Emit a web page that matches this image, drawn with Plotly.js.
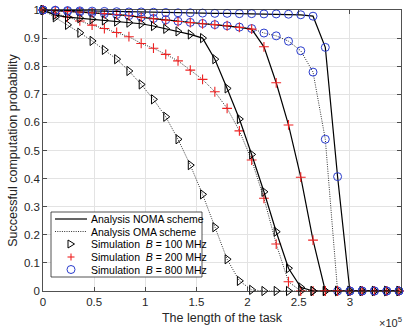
<!DOCTYPE html>
<html>
<head>
<meta charset="utf-8">
<script src="https://cdn.plot.ly/plotly-3.0.1.min.js"></script>
<style>html,body{margin:0;padding:0;background:#fff}#chart{width:405px;height:329px}</style>
</head>
<body>
<div id="chart"></div>
<script>
// Task length (units of 1e5)
const taskLength = [0, 0.12, 0.24, 0.36, 0.48, 0.60, 0.72, 0.84, 0.96, 1.08, 1.20, 1.32, 1.44, 1.56, 1.68,
  1.80, 1.92, 2.04, 2.16, 2.28, 2.40, 2.52, 2.64, 2.76, 2.88, 3.00, 3.12, 3.24, 3.36, 3.48];

const noma100 = [1.0, 0.982, 0.975, 0.971, 0.967, 0.963, 0.959, 0.955, 0.951, 0.943, 0.933, 0.924, 0.913, 0.900, 0.825,
  0.721, 0.612, 0.486, 0.353, 0.211, 0.081, 0.013, 0, 0, 0, 0, 0, 0, 0, 0];
const oma100 = [1.0, 0.974, 0.947, 0.919, 0.890, 0.858, 0.825, 0.783, 0.735, 0.682, 0.620, 0.540, 0.448, 0.344, 0.227,
  0.113, 0.036, 0.004, 0, 0, 0, 0, 0, 0, 0, 0, 0, 0, 0, 0];
const noma200 = [1.0, 0.998, 0.995, 0.993, 0.990, 0.987, 0.984, 0.980, 0.974, 0.969, 0.964, 0.959, 0.955, 0.951, 0.948,
  0.944, 0.938, 0.932, 0.869, 0.741, 0.591, 0.405, 0.181, 0, 0, 0, 0, 0, 0, 0];
const oma200 = [1.0, 0.988, 0.975, 0.961, 0.946, 0.934, 0.920, 0.905, 0.881, 0.864, 0.842, 0.819, 0.786, 0.753, 0.709,
  0.650, 0.570, 0.466, 0.330, 0.167, 0.033, 0, 0, 0, 0, 0, 0, 0, 0, 0];
const noma800 = [1.0, 0.999, 0.998, 0.997, 0.996, 0.995, 0.994, 0.993, 0.993, 0.992, 0.991, 0.990, 0.990, 0.989, 0.988,
  0.988, 0.987, 0.987, 0.986, 0.986, 0.985, 0.983, 0.978, 0.867, 0.407, 0, 0, 0, 0, 0];
const oma800 = [1.0, 0.998, 0.995, 0.993, 0.990, 0.987, 0.984, 0.980, 0.975, 0.970, 0.965, 0.960, 0.956, 0.952, 0.948,
  0.944, 0.939, 0.934, 0.918, 0.908, 0.889, 0.855, 0.779, 0.540, 0, 0, 0, 0, 0, 0];

const xTicks = [0, 0.5, 1, 1.5, 2, 2.5, 3, 3.5];
const xTickText = ['0', '0.5', '1', '1.5', '2', '2.5', '3', '3.5'];
const yTicks = [0, 0.1, 0.2, 0.3, 0.4, 0.5, 0.6, 0.7, 0.8, 0.9, 1];
const yTickText = ['0', '0.1', '0.2', '0.3', '0.4', '0.5', '0.6', '0.7', '0.8', '0.9', '1'];

const legendLabels = ['Analysis NOMA scheme', 'Analysis OMA scheme',
  'Simulation  <i>B</i> = 100 MHz', 'Simulation  <i>B</i> = 200 MHz', 'Simulation  <i>B</i> = 800 MHz'];

const BLACK = '#000000', RED = '#ee2222', BLUE = '#2a3ccc';
const tri = {symbol: 'triangle-right-open', size: 8, color: BLACK, line: {width: 1, color: BLACK}};
const plus = {symbol: 'cross-thin-open', size: 7, color: RED, line: {width: 1.1, color: RED}};
const circ = {symbol: 'circle-open', size: 8, color: BLUE, line: {width: 1, color: BLUE}};
const solid = {color: BLACK, width: 1.2};
const dotted = {color: '#333', width: 1, dash: '1px,1.3px'};

function tr(y, line, marker) {
  return {x: taskLength, y: y, mode: 'lines+markers', line: line, marker: marker,
    showlegend: false, cliponaxis: false, hoverinfo: 'skip'};
}
const data = [
  tr(oma100, dotted, tri), tr(oma200, dotted, plus), tr(oma800, dotted, circ),
  tr(noma100, solid, tri), tr(noma200, solid, plus), tr(noma800, solid, circ)
];

// plot area in pixels
const L = 43, R = 401, T = 10, B = 291;
const PX = p => (p - L) / (R - L);
const PY = p => (B - p) / (B - T);

const shapes = [];
const annotations = [];
// legend box
shapes.push({type: 'rect', xref: 'paper', yref: 'paper', x0: PX(51), x1: PX(202), y0: PY(277), y1: PY(212),
  line: {color: '#262626', width: 0.8}, fillcolor: '#ffffff', layer: 'above'});
const rows = [219, 231.5, 244, 257, 269.5];
rows.forEach((py, i) => {
  annotations.push({xref: 'paper', yref: 'paper', x: PX(89), y: PY(py), xanchor: 'left', yanchor: 'middle',
    text: legendLabels[i], showarrow: false, font: {size: 10.5, color: '#000'}});
});
shapes.push({type: 'line', xref: 'paper', yref: 'paper', x0: PX(55), x1: PX(87), y0: PY(rows[0]), y1: PY(rows[0]),
  line: {color: BLACK, width: 1.2}, layer: 'above'});
shapes.push({type: 'line', xref: 'paper', yref: 'paper', x0: PX(55), x1: PX(87), y0: PY(rows[1]), y1: PY(rows[1]),
  line: {color: '#333', width: 1, dash: '1px,1.3px'}, layer: 'above'});
const cx = 71;
let ty = rows[2];
shapes.push({type: 'path', xref: 'paper', yref: 'paper', layer: 'above',
  path: `M ${PX(cx - 3)} ${PY(ty - 4)} L ${PX(cx - 3)} ${PY(ty + 4)} L ${PX(cx + 3.5)} ${PY(ty)} Z`,
  line: {color: BLACK, width: 1}});
ty = rows[3];
shapes.push({type: 'line', xref: 'paper', yref: 'paper', layer: 'above', x0: PX(cx - 3.5), x1: PX(cx + 3.5), y0: PY(ty), y1: PY(ty), line: {color: RED, width: 1.1}});
shapes.push({type: 'line', xref: 'paper', yref: 'paper', layer: 'above', x0: PX(cx), x1: PX(cx), y0: PY(ty - 3.5), y1: PY(ty + 3.5), line: {color: RED, width: 1.1}});
ty = rows[4];
shapes.push({type: 'circle', xref: 'paper', yref: 'paper', layer: 'above', x0: PX(cx - 4), x1: PX(cx + 4), y0: PY(ty + 4), y1: PY(ty - 4), line: {color: BLUE, width: 1}});

// exponent label
annotations.push({xref: 'paper', yref: 'paper', x: PX(404), y: PY(322), xanchor: 'right', yanchor: 'middle',
  text: '×10<sup>5</sup>', showarrow: false, font: {size: 11, color: '#262626'}});

const axisCommon = {
  showline: true, linecolor: '#262626', linewidth: 0.8, mirror: 'ticks',
  ticks: 'inside', ticklen: 4, tickwidth: 0.8, tickcolor: '#262626',
  showgrid: true, gridcolor: '#e3e3e3', gridwidth: 1, zeroline: false,
  tickfont: {size: 11.5, color: '#262626'}
};

const layout = {
  width: 405, height: 329,
  margin: {l: L, r: 405 - R, t: T, b: 329 - B},
  paper_bgcolor: '#ffffff', plot_bgcolor: '#ffffff',
  font: {family: 'Liberation Sans, Arial, sans-serif', color: '#262626'},
  showlegend: false,
  xaxis: Object.assign({}, axisCommon, {
    range: [0, 3.5], tickmode: 'array', tickvals: xTicks, ticktext: xTickText,
    title: {text: 'The length of the task', font: {size: 12.5, color: '#262626'}, standoff: 6}
  }),
  yaxis: Object.assign({}, axisCommon, {
    range: [0, 1], tickmode: 'array', tickvals: yTicks, ticktext: yTickText,
    title: {text: 'Successful computation probability', font: {size: 12.5, color: '#262626'}, standoff: 3}
  }),
  shapes: shapes,
  annotations: annotations
};

Plotly.newPlot('chart', data, layout, {staticPlot: true, displayModeBar: false});
</script>
</body>
</html>
